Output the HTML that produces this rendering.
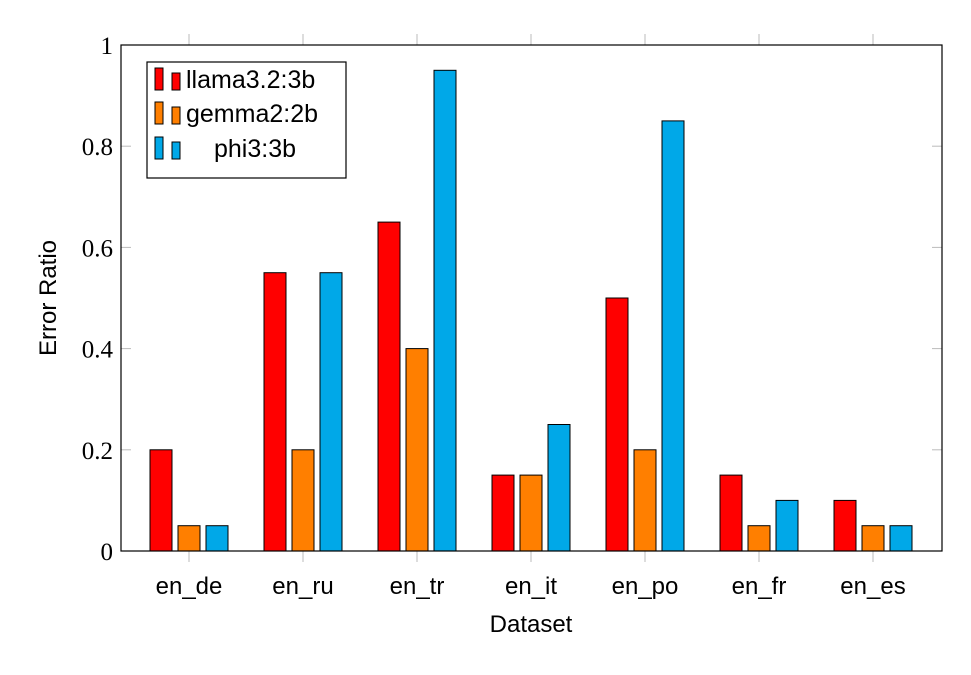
<!DOCTYPE html>
<html><head><meta charset="utf-8"><style>
body{margin:0;background:#fff}
svg text{font-family:"Liberation Sans",sans-serif;fill:#000}
.serif{font-family:"Liberation Serif",serif}
</style></head><body>
<svg id="chart" width="971" height="670" xmlns="http://www.w3.org/2000/svg"></svg>
<script>
const categories=["en_de","en_ru","en_tr","en_it","en_po","en_fr","en_es"];
const llama=[0.2,0.55,0.65,0.15,0.5,0.15,0.1];
const gemma=[0.05,0.2,0.4,0.15,0.2,0.05,0.05];
const phi=[0.05,0.55,0.95,0.25,0.85,0.1,0.05];
const yTicks=[0,0.2,0.4,0.6,0.8,1];
const yTickLabels=["0","0.2","0.4","0.6","0.8","1"];
const seriesNames=["llama3.2:3b","gemma2:2b","phi3:3b"];
const colors=["#ff0000","#ff7f00","#00a8e8"];
const X0=121,X1=942,Y0=551,Y1=45;
const svg=document.getElementById('chart');
const NS="http://www.w3.org/2000/svg";
function el(t,a,p){const e=document.createElementNS(NS,t);for(const k in a)e.setAttribute(k,a[k]);(p||svg).appendChild(e);return e;}
function yS(v){return Y0-(Y0-Y1)*v;}
function xS(i){return 189+114*i;}
yTicks.forEach((v,i)=>{
  const y=yS(v);
  const t1=el('line',{x1:X0,x2:X0+10,y1:y,y2:y,stroke:'#bbb','stroke-width':1});
  
  
  el('line',{x1:X1-10,x2:X1,y1:y,y2:y,stroke:'#bbb','stroke-width':1});
  const tx=el('text',{x:X0-8,y:y+9,'text-anchor':'end','font-size':25,class:'serif'});
  tx.textContent=yTickLabels[i];
  
  
});
categories.forEach((c,i)=>{
  const x=xS(i);
  el('line',{x1:x,x2:x,y1:Y0,y2:Y0+11,stroke:'#bbb','stroke-width':1});
  el('line',{x1:x,x2:x,y1:Y1-11,y2:Y1,stroke:'#bbb','stroke-width':1});
  const t=el('text',{x:x,y:594,'text-anchor':'middle','font-size':24});
  t.textContent=c;
  
  
  [llama,gemma,phi].forEach((s,j)=>{
    const bx=x-28+28*j-11;
    const r=el('rect',{x:bx,y:yS(s[i]),width:22,height:Y0-yS(s[i]),fill:colors[j],stroke:'#000','stroke-width':1});
    
    
  });
});
const ax=el('rect',{x:X0,y:Y1,width:X1-X0,height:Y0-Y1,fill:'none',stroke:'#000','stroke-width':1.2});


const xt=el('text',{x:531,y:632,'text-anchor':'middle','font-size':24});
xt.textContent='Dataset';


const yt=el('text',{x:0,y:0,'text-anchor':'middle','font-size':24,transform:'translate(56,298) rotate(-90)'});
yt.textContent='Error Ratio';


const lg=el('g',{});


el('rect',{x:147,y:62,width:199,height:116,fill:'#fff',stroke:'#000','stroke-width':1.2},lg);
const rowsY=[79,113,148];
seriesNames.forEach((n,j)=>{
  const cy=rowsY[j];
  el('rect',{x:155,y:cy-11,width:8,height:22,fill:colors[j],stroke:'#000','stroke-width':1},lg);
  el('rect',{x:172,y:cy-6,width:8,height:17,fill:colors[j],stroke:'#000','stroke-width':1},lg);
  const t=el('text',{x:j==2?214:186,y:cy+9,'font-size':25},lg);
  t.textContent=n;
  
  
});
</script>
</body></html>
